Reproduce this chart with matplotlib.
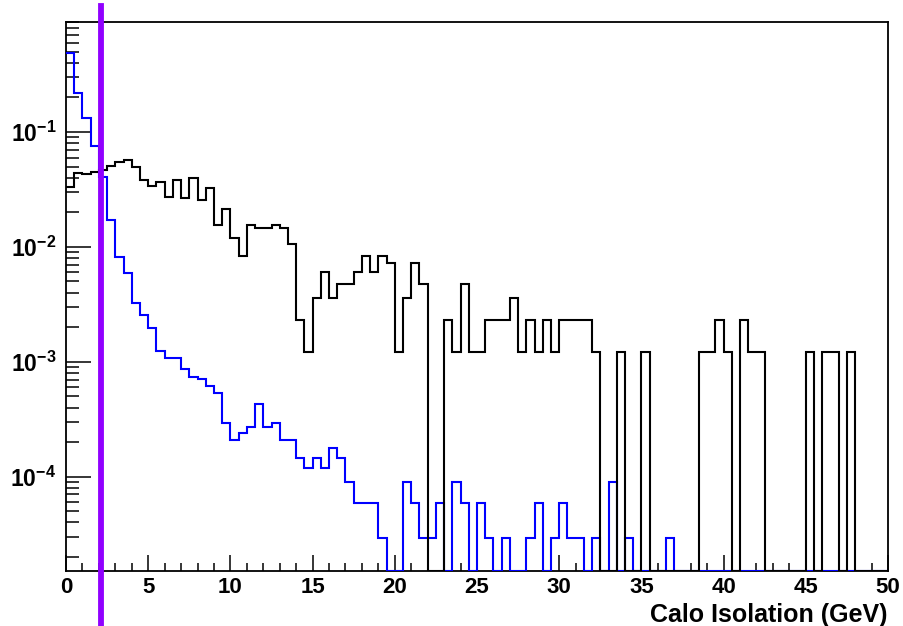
import numpy as np
import matplotlib
matplotlib.use("Agg")
import matplotlib.pyplot as plt
from matplotlib.ticker import LogLocator, MultipleLocator, NullFormatter, FixedLocator, FixedFormatter

plt.rcParams['font.family'] = ['Liberation Sans', 'DejaVu Sans']
plt.rcParams['mathtext.fontset'] = 'custom'
plt.rcParams['mathtext.rm'] = 'Liberation Sans:bold'
plt.rcParams['mathtext.bf'] = 'Liberation Sans:bold'
plt.rcParams['mathtext.it'] = 'Liberation Sans:bold'

# 100 bins of 0.5 GeV from 0 to 50
bin_edges = np.linspace(0, 50, 101)

black_values = [
    0.0334, 0.0442, 0.0430, 0.0449, 0.0467, 0.0506, 0.0548, 0.0570, 0.0492, 0.0382,
    0.0339, 0.0369, 0.0273, 0.0382, 0.0264, 0.0400, 0.0256, 0.0324, 0.0155, 0.0212,
    0.01186, 0.0083, 0.0155, 0.0145, 0.0145, 0.0155, 0.0145, 0.01057, 0.00233, 0.00122,
    0.00356, 0.00603, 0.00356, 0.00474, 0.00474, 0.00603, 0.0083, 0.00603, 0.0083, 0.00718,
    0.00122, 0.00356, 0.00718, 0.00474, 0.0, 0.0, 0.00233, 0.00122, 0.00474, 0.00122,
    0.00122, 0.00233, 0.00233, 0.00233, 0.00356, 0.00122, 0.00233, 0.00122, 0.00233, 0.00122,
    0.00233, 0.00233, 0.00233, 0.00233, 0.00122, 0.0, 0.0, 0.00122, 0.0, 0.0,
    0.00122, 0.0, 0.0, 0.0, 0.0, 0.0, 0.0, 0.00122, 0.00122, 0.00233,
    0.00122, 0.0, 0.00233, 0.00122, 0.00122, 0.0, 0.0, 0.0, 0.0, 0.0,
    0.00122, 0.0, 0.00122, 0.00122, 0.0, 0.00122, 0.0, 0.0, 0.0, 0.0,
]

blue_values = [
    0.49, 0.217, 0.132, 0.0750, 0.041, 0.0173, 0.0081, 0.00587, 0.00322, 0.00255,
    0.00197, 0.00124, 0.00108, 0.00108, 0.00087, 0.00074, 0.000715, 0.000612, 0.000536, 0.000296,
    0.000207, 0.00024, 0.000268, 0.000425, 0.000268, 0.000296, 0.000207, 0.000207, 0.000146, 0.000119,
    0.000146, 0.000119, 0.000176, 0.000146, 0.00009, 0.000059, 0.000059, 0.000059, 0.0000292, 0.0,
    0.0, 0.00009, 0.000059, 0.0000292, 0.0000292, 0.000059, 0.0, 0.00009, 0.000059, 0.0,
    0.000059, 0.0000292, 0.0, 0.0000292, 0.0, 0.0, 0.0000292, 0.000059, 0.0, 0.0000292,
    0.000059, 0.0000292, 0.0000292, 0.0, 0.0000292, 0.0, 0.00009, 0.0, 0.0000292, 0.0,
    0.0, 0.0, 0.0, 0.0000292, 0.0, 0.0, 0.0, 0.0, 0.0, 0.0,
    0.0, 0.0, 0.0, 0.0, 0.0, 0.0, 0.0, 0.0, 0.0, 0.0,
    0.0, 0.0, 0.0, 0.0, 0.0, 0.0, 0.0, 0.0, 0.0, 0.0,
]

cut_value = 2.1
x_ticks = [0, 5, 10, 15, 20, 25, 30, 35, 40, 45, 50]
y_ticks = [1e-4, 1e-3, 1e-2, 1e-1]
y_tick_labels = [r'$\mathbf{10^{-4}}$', r'$\mathbf{10^{-3}}$', r'$\mathbf{10^{-2}}$', r'$\mathbf{10^{-1}}$']
x_label = "Calo Isolation (GeV)"

ymin, ymax = 1.51e-5, 0.907

fig = plt.figure(figsize=(9.04, 6.26), dpi=100)
ax = fig.add_axes([66/904, 1 - 571/626, (888-66)/904, (571-22)/626])

bv = np.maximum(np.array(blue_values), ymin)
kv = np.maximum(np.array(black_values), ymin)
ax.stairs(bv, bin_edges, baseline=None, color='#0000ff', lw=1.5, zorder=3)
ax.stairs(kv, bin_edges, baseline=None, color='black', lw=1.5, zorder=3.1)

ax.set_yscale('log')
ax.set_xlim(0, 50)
ax.set_ylim(ymin, ymax)

ax.xaxis.set_major_locator(FixedLocator(x_ticks))
ax.set_xticklabels([str(t) for t in x_ticks])
ax.xaxis.set_minor_locator(MultipleLocator(1))
ax.yaxis.set_major_locator(FixedLocator(y_ticks))
ax.yaxis.set_major_formatter(FixedFormatter(y_tick_labels))
ax.yaxis.set_minor_locator(LogLocator(base=10, subs=np.arange(2, 10), numticks=20))
ax.yaxis.set_minor_formatter(NullFormatter())

ax.tick_params(axis='x', which='major', direction='in', length=11.5, width=1.1,
               top=False, labelsize=16, pad=4.5)
ax.tick_params(axis='x', which='minor', direction='in', length=5.5, width=1.1, top=False)
ax.tick_params(axis='y', which='major', direction='in', length=18, width=1.1,
               right=False, labelsize=16.5, pad=7)
ax.tick_params(axis='y', which='minor', direction='in', length=9.5, width=1.1, right=False)
for lab in ax.get_xticklabels():
    lab.set_fontweight('bold')

for s in ax.spines.values():
    s.set_linewidth(1.3)
    s.set_zorder(2)

ax.axvline(cut_value, ymin=-0.101, ymax=1.029, clip_on=False, color='#9000ff', lw=4.2, zorder=4)

fig.text(888/904, 1 - 622/626, x_label, ha='right', va='baseline', fontsize=18, fontweight='bold')

fig.savefig('out.png', dpi=100)
